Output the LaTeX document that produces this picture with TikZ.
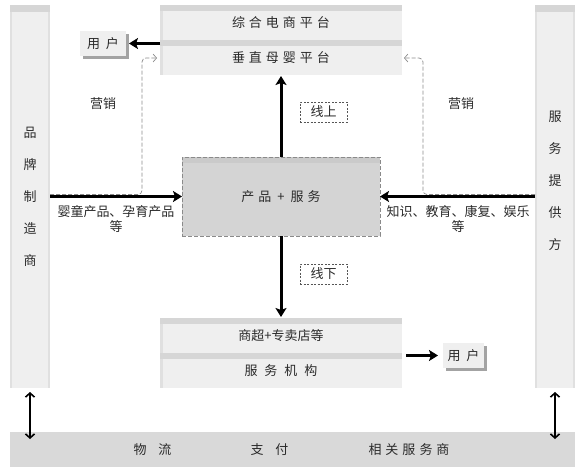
\documentclass[tikz,border=0pt]{standalone}
\usepackage{fontspec}
\setmainfont{Noto Sans CJK SC}
\usetikzlibrary{arrows.meta,shadows}
\definecolor{txt}{HTML}{2A2A2A}
\definecolor{panelbg}{HTML}{EFEFEF}
\definecolor{strip}{HTML}{D6D6D6}
\definecolor{edgec}{HTML}{E0E0E0}
\definecolor{corefill}{HTML}{D4D4D4}
\definecolor{corestrip}{HTML}{CACACA}
\definecolor{bandfill}{HTML}{D9D9D9}
\definecolor{dashc}{HTML}{8A8A8A}
\newcommand\sg[1][4pt]{\hspace{#1}}
\begin{document}
\begin{tikzpicture}[x=1pt,y=-1pt,
  every node/.style={inner sep=0pt,outer sep=0pt,text=txt,font=\fontsize{13}{15}\selectfont},
  panel/.style={fill=panelbg, path picture={
     \fill[edgec] (path picture bounding box.north west) rectangle ([xshift=3pt]path picture bounding box.south west);
     \fill[strip] (path picture bounding box.north west) rectangle ([yshift=-6pt]path picture bounding box.north east);}},
  column/.style={fill=panelbg, path picture={
     \fill[edgec] (path picture bounding box.north west) rectangle ([xshift=2pt]path picture bounding box.south west);
     \fill[edgec] (path picture bounding box.north east) rectangle ([xshift=-2pt]path picture bounding box.south east);
     \fill[strip] (path picture bounding box.north west) rectangle ([yshift=-7pt]path picture bounding box.north east);}},
  corebox/.style={fill=corefill, draw=dashc, line width=0.8pt, dash pattern=on 4pt off 2pt, path picture={
     \fill[corestrip] (path picture bounding box.north west) rectangle ([yshift=-6pt]path picture bounding box.north east);}},
  userbox/.style={fill=panelbg, drop shadow={shadow xshift=3pt, shadow yshift=-3pt, fill=black!45, opacity=0.8}},
  tagbox/.style={fill=white, draw=txt!80, line width=0.5pt, dash pattern=on 2pt off 1.5pt},
  thick arrow/.style={line width=3pt, -{Stealth[length=9pt,width=11pt,inset=2pt]}},
  mkt/.style={draw=dashc, line width=0.7pt, dash pattern=on 4pt off 2pt, rounded corners=4pt, -{Straight Barb[length=3.5pt,width=8pt]}},
  dbl/.style={line width=1.6pt, {Straight Barb[length=4pt,width=9pt]}-{Straight Barb[length=4pt,width=9pt]}}
]
\useasboundingbox (0,0) rectangle (582,472);
% side columns and bottom band
\node[column, minimum width=40pt, minimum height=383pt] (lcol) at (30,196.5) {};
\node[column, minimum width=40pt, minimum height=383pt] (rcol) at (555,196.5) {};
\node[font=\fontsize{13}{32}\selectfont, align=center] (ltxt) at (30,197) {品\\牌\\制\\造\\商};
\node[font=\fontsize{13}{32}\selectfont, align=center] (rtxt) at (555,181) {服\\务\\提\\供\\方};
\node[fill=bandfill, minimum width=565pt, minimum height=35pt] (band) at (292.5,449.5) {};
\node (wl) at (152.5,450) {物\sg[12pt]流};
\node (zf) at (269.5,450) {支\sg[12pt]付};
\node (xg) at (409,450) {相\sg 关\sg 服\sg 务\sg 商};
% platforms
\node[panel, minimum width=242pt, minimum height=35pt] (top1) at (281,22.5) {综\sg 合\sg 电\sg 商\sg 平\sg 台};
\node[panel, minimum width=242pt, minimum height=35pt] (top2) at (281,57.5) {垂\sg 直\sg 母\sg 婴\sg 平\sg 台};
\node[panel, minimum width=242pt, minimum height=35pt] (bot1) at (281,335.5) {商超+专卖店等};
\node[panel, minimum width=242pt, minimum height=35pt] (bot2) at (281,370.5) {服\sg[7pt]务\sg[7pt]机\sg[7pt]构};
% center
\node[corebox, minimum width=198pt, minimum height=79pt] (core) at (281,196.5) {产\sg 品\sg[6pt]+\sg[6pt]服\sg 务};
% users
\node[userbox, minimum width=46pt, minimum height=25pt] (user1) at (103,43.5) {用\sg[6pt]户};
\node[userbox, minimum width=41pt, minimum height=25pt] (user2) at (463.5,355.5) {用\sg[6pt]户};
% tags
\node[tagbox, minimum width=47pt, minimum height=20pt] (on) at (323.5,112) {线上};
\node[tagbox, minimum width=47pt, minimum height=20pt] (off) at (323.5,274) {线下};
% labels
\node (mktl) at (103,104) {营销};
\node (mktr) at (461,104) {营销};
\node[align=center] (lprod) at (116,219) {婴童产品、孕育产品\\等};
\node[align=center] (rserv) at (458,219) {知识、教育、康复、娱乐\\等};
% marketing dashed arrows
\coordinate (ml) at (142,58);
\coordinate (mr) at (423,58);
\draw[mkt] (lcol.east |- 0,194.5) -| (ml) -- ([xshift=-3pt]top2.west |- ml);
\draw[mkt] (rcol.west |- 0,194.5) -| (mr) -- ([xshift=2pt]top2.east |- mr);
% thick arrows
\draw[thick arrow] (lcol.east |- core.west) -- (core.west);
\draw[thick arrow] (rcol.west |- core.east) -- (core.east);
\draw[thick arrow] (core.north) -- ([yshift=-1pt]top2.south);
\draw[thick arrow] (core.south) -- ([yshift=1pt]bot1.north);
\draw[thick arrow] (user1.east -| top2.west) -- ([xshift=3pt]user1.east);
\draw[thick arrow] ([xshift=4pt]user2.west -| bot1.east) -- ([xshift=-5pt]user2.west);
% double arrows
\draw[dbl] ([yshift=-4pt]lcol.south) -- ([yshift=-7pt]band.north -| lcol.south);
\draw[dbl] ([yshift=-4pt]rcol.south) -- ([yshift=-7pt]band.north -| rcol.south);
\end{tikzpicture}
\end{document}
